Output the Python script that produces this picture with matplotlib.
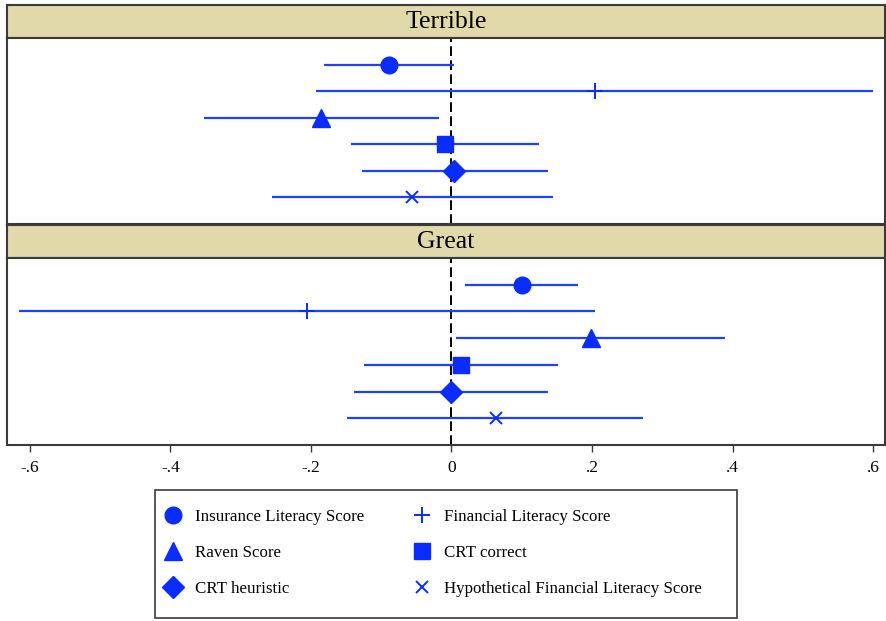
import matplotlib
matplotlib.use('Agg')
import matplotlib.pyplot as plt
from matplotlib.lines import Line2D
from matplotlib.patches import Rectangle

plt.rcParams['font.family'] = ['Liberation Serif', 'DejaVu Serif']

series = ["Insurance Literacy Score", "Financial Literacy Score", "Raven Score",
          "CRT correct", "CRT heuristic", "Hypothetical Financial Literacy Score"]
panels = ["Terrible", "Great"]
terrible_est = [-0.089, 0.204, -0.185, -0.009, 0.004, -0.056]
terrible_lo = [-0.181, -0.193, -0.352, -0.143, -0.128, -0.256]
terrible_hi = [0.004, 0.600, -0.018, 0.125, 0.138, 0.144]
great_est = [0.100, -0.206, 0.198, 0.013, 0.000, 0.064]
great_lo = [0.020, -0.615, 0.006, -0.124, -0.139, -0.148]
great_hi = [0.180, 0.204, 0.389, 0.152, 0.138, 0.273]
xticks = [-0.6, -0.4, -0.2, 0, 0.2, 0.4, 0.6]
xticklabels = ["-.6", "-.4", "-.2", "0", ".2", ".4", ".6"]

markers = ['o', '+', '^', 's', 'D', 'x']
msizes = [12, 11, 13, 12, 11, 8]
mews = [1, 1.4, 1, 1, 1, 1.4]

BLUE = '#0a2cff'
LINE = '#2040ff'
HEAD = '#e2d9ab'
EDGE = '#3a3a3a'

W, H = 886, 621
fig = plt.figure(figsize=(W / 100, H / 100), dpi=100)


def rect(x0, y0, x1, y1):
    return [x0 / W, 1 - y1 / H, (x1 - x0) / W, (y1 - y0) / H]


panel_data = [(terrible_est, terrible_lo, terrible_hi), (great_est, great_lo, great_hi)]
layout = [((7, 5, 885, 38), (7, 38, 885, 224)), ((7, 225, 885, 258), (7, 258, 885, 445))]
xlim = (-0.6325, 0.617)

for p, (name, (est, lo, hi), (hrect, prect)) in enumerate(zip(panels, panel_data, layout)):
    hax = fig.add_axes(rect(*hrect))
    hax.set_facecolor(HEAD)
    hax.set_xticks([])
    hax.set_yticks([])
    for s in hax.spines.values():
        s.set_color(EDGE)
        s.set_linewidth(1.5)
    hax.text(0.5, 0.47, name, ha='center', va='center', fontsize=18.5, transform=hax.transAxes)

    ax = fig.add_axes(rect(*prect))
    for s in ax.spines.values():
        s.set_color(EDGE)
        s.set_linewidth(1.5)
    ax.axvline(0, color='black', lw=1.4, ls=(0, (5, 2.2)), zorder=1)
    rows = list(range(1, len(series) + 1))
    for i, r in enumerate(rows):
        ax.hlines(r, lo[i], hi[i], color=LINE, lw=1.6, zorder=2)
        ax.plot([est[i]], [r], marker=markers[i], ms=msizes[i], mew=mews[i],
                color=BLUE, mec=BLUE, ls='none', zorder=3)
    ax.set_xlim(*xlim)
    ax.set_ylim(7, 0)
    ax.set_yticks([])
    if p == 1:
        ax.set_xticks(xticks)
        ax.set_xticklabels(xticklabels, fontsize=12.5)
        ax.tick_params(axis='x', direction='out', length=5, width=1, color=EDGE, pad=6)
    else:
        ax.set_xticks([])

# legend
handles = [Line2D([], [], marker=markers[i], ms=msizes[i], mew=mews[i], color=BLUE,
                  mec=BLUE, ls='none') for i in range(len(series))]
order = [0, 2, 4, 1, 3, 5]
fig.patches.append(Rectangle((155 / W, 1 - 618 / H), 582 / W, 128 / H,
                             transform=fig.transFigure, fill=False, ec=EDGE, lw=1.2))
fig.legend([handles[i] for i in order], [series[i] for i in order], ncol=2,
           loc='upper left', bbox_to_anchor=(162 / W, 1 - 509 / H), frameon=False,
           fontsize=12.2, handlelength=1.3, handletextpad=0.65, columnspacing=2.75,
           labelspacing=1.19, borderpad=0, borderaxespad=0)

fig.savefig('out.png', dpi=100)
